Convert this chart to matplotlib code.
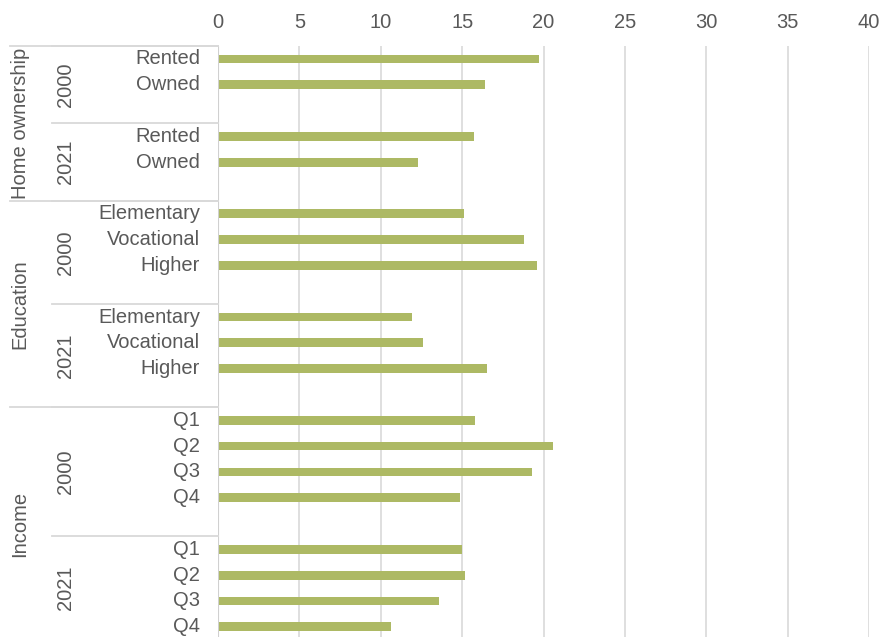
import matplotlib
matplotlib.use("Agg")
import matplotlib.pyplot as plt
from matplotlib.transforms import blended_transform_factory
from matplotlib.lines import Line2D

plt.rcParams['font.family'] = ['Liberation Sans', 'DejaVu Sans']

groups = ["Home ownership", "Education", "Income"]
years = ["2000", "2021"]
home_cats = ["Rented", "Owned"]
edu_cats = ["Elementary", "Vocational", "Higher"]
inc_cats = ["Q1", "Q2", "Q3", "Q4"]

home_2000 = [19.7, 16.4]
home_2021 = [15.75, 12.3]
edu_2000 = [15.1, 18.8, 19.6]
edu_2021 = [11.9, 12.6, 16.5]
inc_2000 = [15.8, 20.6, 19.3, 14.9]
inc_2021 = [15.0, 15.2, 13.6, 10.6]

xticks = [0, 5, 10, 15, 20, 25, 30, 35, 40]

data = [
    (groups[0], [(years[0], home_cats, home_2000), (years[1], home_cats, home_2021)]),
    (groups[1], [(years[0], edu_cats, edu_2000), (years[1], edu_cats, edu_2021)]),
    (groups[2], [(years[0], inc_cats, inc_2000), (years[1], inc_cats, inc_2021)]),
]

TEXT = "#595959"
GRID = "#d9d9d9"
BAR = "#adb964"
FS = 14.5

W, H = 880, 637
fig = plt.figure(figsize=(W / 100, H / 100), dpi=100)
top_px, bot_px = 46, 641
left_px, right_px = 218, 869
ax = fig.add_axes([left_px / W, 1 - bot_px / H, (right_px - left_px) / W, (bot_px - top_px) / H])

rows = []
year_spans = []
group_spans = []
slot = 0
for gi, (g, ylist) in enumerate(data):
    gstart = slot
    for yi, (yr, cats, vals) in enumerate(ylist):
        ystart = slot
        for c, v in zip(cats, vals):
            rows.append((slot, c, v))
            slot += 1
        last = (gi == len(data) - 1 and yi == len(ylist) - 1)
        if not last:
            slot += 1
        year_spans.append((yr, ystart, slot))
    group_spans.append((g, gstart, slot))
nslots = slot + 0.05

ys = [r[0] for r in rows]
vals = [r[2] for r in rows]
ax.barh(ys, vals, height=0.34, color=BAR, zorder=3)

ax.set_xlim(0, 40)
ax.set_ylim(nslots - 0.5, -0.5)
ax.set_xticks(xticks)
ax.xaxis.tick_top()
ax.tick_params(axis='x', length=0, labelsize=FS, labelcolor=TEXT, pad=10)
ax.set_yticks([])
for s in ax.spines.values():
    s.set_visible(False)
ax.grid(axis='x', color=GRID, linewidth=1.2, zorder=0)
ax.axvline(0, color="#d0d0d0", linewidth=1.5, zorder=4)

tr = blended_transform_factory(fig.transFigure, ax.transData)

for s, c, v in rows:
    fig.text(200 / W, s, c, transform=tr, ha='right', va='center', fontsize=FS, color=TEXT)

for yr, a, b in year_spans:
    fig.text(65 / W, (a + b) / 2 - 0.5, yr, transform=tr, ha='center', va='center',
             rotation=90, fontsize=FS, color=TEXT)
    fig.add_artist(Line2D([52 / W, left_px / W], [a - 0.5, a - 0.5], transform=tr,
                          color=GRID, linewidth=1.3))

for g, a, b in group_spans:
    fig.text(20 / W, (a + b) / 2 - 0.5, g, transform=tr, ha='center', va='center',
             rotation=90, fontsize=FS, color=TEXT)
    fig.add_artist(Line2D([10 / W, left_px / W], [a - 0.5, a - 0.5], transform=tr,
                          color=GRID, linewidth=1.3))

fig.savefig("out.png", dpi=100)
